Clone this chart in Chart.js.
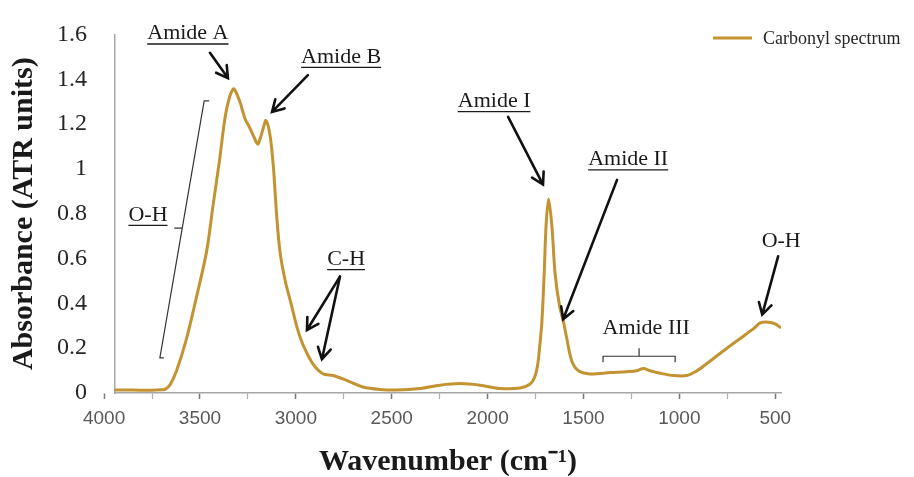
<!DOCTYPE html>
<html>
<head>
<meta charset="utf-8">
<script src="https://cdn.jsdelivr.net/npm/chart.js@4.4.1/dist/chart.umd.min.js"></script>
<style>
html,body{margin:0;padding:0;background:#fff;}
canvas{display:block;}
</style>
</head>
<body>
<canvas id="c" width="914" height="477"></canvas>
<script>
// ---- data ----
const seriesLabel = 'Carbonyl spectrum';
const wavenumbers = [3943,3850,3750,3700,3683,3657,3622,3570,3517,3465,3432,3396,3370,3344,3323,3291,3265,3239,3204,3196,3170,3156,3135,3117,3100,3083,3056,3022,2992,2963,2911,2859,2806,2735,2650,2561,2474,2352,2248,2144,2039,1935,1830,1778,1755,1740,1728,1717,1705,1695,1682,1665,1648,1625,1604,1587,1561,1526,1465,1361,1274,1222,1187,1152,1100,1030,961,908,839,752,683,613,578,535,500,470];
const absorbance  = [0.013,0.013,0.012,0.014,0.016,0.035,0.099,0.243,0.432,0.633,0.835,1.051,1.224,1.325,1.357,1.297,1.224,1.181,1.116,1.111,1.181,1.216,1.152,1.008,0.791,0.633,0.503,0.389,0.287,0.216,0.130,0.086,0.078,0.056,0.027,0.016,0.013,0.020,0.035,0.042,0.035,0.020,0.022,0.040,0.070,0.120,0.210,0.316,0.532,0.748,0.866,0.748,0.532,0.389,0.316,0.243,0.143,0.099,0.085,0.091,0.095,0.099,0.109,0.099,0.088,0.078,0.078,0.099,0.143,0.200,0.243,0.287,0.313,0.316,0.308,0.290];

const xTickValues = [4000,3750,3500,3250,3000,2750,2500,2250,2000,1750,1500,1250,1000,750,500];
const xLabelledTicks = [4000,3500,3000,2500,2000,1500,1000,500];
const yTickValues = [0,0.2,0.4,0.6,0.8,1.0,1.2,1.4,1.6];
const yTickLabels = ['0','0.2','0.4','0.6','0.8','1','1.2','1.4','1.6'];
const xAxisTitle = 'Wavenumber (cm\u207B\u00B9)';
const yAxisTitle = 'Absorbance (ATR units)';

// annotations (anchored in data coordinates)
const labelTexts = ['Amide A','Amide B','O-H','C-H','Amide I','Amide II','O-H','Amide III'];
const labelAnchors = [[3563,1.604],[2764,1.50],[3771,0.795],[2738,0.597],[1966,1.302],[1267,1.042],[469,0.679],[1173,0.290]];
const labelUnderlined = [true,true,true,true,true,true,false,false];
const arrowFrom = [[3448,1.518],[2937,1.418],[2770,0.519],[2770,0.519],[1893,1.232],[1325,0.951],[485,0.610]];
const arrowTo   = [[3354,1.405],[3124,1.254],[2942,0.281],[2864,0.151],[1711,0.930],[1606,0.329],[568,0.350]];
const ohBracket = [[3478,1.303],[3709,0.157]];
const amide3Bracket = [[1398,0.164],[1022,0.164]];

const lineColor = '#C39331';

const points = wavenumbers.map((w,i)=>({x:w,y:absorbance[i]}));

function drawArrow(ctx, x1,y1,x2,y2){
  const ang = Math.atan2(y2-y1,x2-x1);
  const L = 13, a = Math.PI/6;
  ctx.beginPath();
  ctx.moveTo(x1,y1); ctx.lineTo(x2,y2);
  ctx.moveTo(x2 - L*Math.cos(ang-a), y2 - L*Math.sin(ang-a));
  ctx.lineTo(x2,y2);
  ctx.lineTo(x2 - L*Math.cos(ang+a), y2 - L*Math.sin(ang+a));
  ctx.stroke();
}

const annotationPlugin = {
  id:'annot',
  afterDatasetsDraw(chart){
    const ctx = chart.ctx, xs = chart.scales.x, ys = chart.scales.y;
    const px = v=>xs.getPixelForValue(v), py = v=>ys.getPixelForValue(v);
    ctx.save();
    ctx.font = '22px "Liberation Serif"';
    ctx.fillStyle = '#1a1a1a';
    ctx.textAlign = 'center';
    ctx.textBaseline = 'middle';
    ctx.strokeStyle = '#1a1a1a';
    labelTexts.forEach((t,i)=>{
      const x = px(labelAnchors[i][0]), y = py(labelAnchors[i][1]);
      ctx.fillText(t,x,y);
      if(labelUnderlined[i]){
        const w = ctx.measureText(t).width;
        ctx.lineWidth = 1.3;
        ctx.beginPath(); ctx.moveTo(x-w/2,y+10.5); ctx.lineTo(x+w/2,y+10.5); ctx.stroke();
      }
    });
    ctx.strokeStyle = '#111';
    ctx.lineWidth = 2.6;
    ctx.lineCap = 'round';
    ctx.lineJoin = 'miter';
    arrowFrom.forEach((f,i)=>{
      drawArrow(ctx, px(f[0]),py(f[1]), px(arrowTo[i][0]),py(arrowTo[i][1]));
    });
    ctx.lineWidth = 1.2; ctx.strokeStyle = '#333'; ctx.lineCap='butt';
    const bx1 = px(ohBracket[0][0]), by1 = py(ohBracket[0][1]);
    const bx2 = px(ohBracket[1][0]), by2 = py(ohBracket[1][1]);
    const mx = bx1 + (bx2-bx1)*0.495, my = by1 + (by2-by1)*0.495;
    ctx.beginPath();
    ctx.moveTo(bx1+5,by1); ctx.lineTo(bx1,by1); ctx.lineTo(bx2,by2); ctx.lineTo(bx2+4,by2);
    ctx.moveTo(mx,my); ctx.lineTo(mx-8,my);
    ctx.stroke();
    const ax1 = px(amide3Bracket[0][0]), ay = py(amide3Bracket[0][1]);
    const ax2 = px(amide3Bracket[1][0]);
    ctx.beginPath();
    ctx.moveTo(ax1,ay+6); ctx.lineTo(ax1,ay); ctx.lineTo(ax2,ay); ctx.lineTo(ax2,ay+6);
    ctx.moveTo((ax1+ax2)/2,ay); ctx.lineTo((ax1+ax2)/2,ay-8);
    ctx.stroke();
    ctx.restore();
  },
  afterDraw(chart){
    const ctx = chart.ctx;
    const ds = chart.data.datasets[0];
    ctx.save();
    const lx = chart.width - 201, ly = 38;
    ctx.strokeStyle = ds.borderColor; ctx.lineWidth = 3;
    ctx.beginPath(); ctx.moveTo(lx,ly); ctx.lineTo(lx+39,ly); ctx.stroke();
    ctx.font = '18px "Liberation Serif"';
    ctx.fillStyle = '#262626';
    ctx.textAlign = 'left'; ctx.textBaseline = 'middle';
    ctx.fillText(ds.label, lx+50, ly+1);
    ctx.restore();
  }
};

new Chart(document.getElementById('c'), {
  type:'line',
  data:{ datasets:[{
    label: seriesLabel,
    data: points,
    borderColor: lineColor,
    borderWidth: 3,
    pointRadius: 0,
    fill: false,
    tension: 0.3
  }]},
  options:{
    responsive:false,
    animation:false,
    devicePixelRatio:1,
    layout:{padding:{left:0,right:133,top:23,bottom:0}},
    plugins:{legend:{display:false}, tooltip:{enabled:false}},
    scales:{
      x:{
        type:'linear', reverse:true, min:470, max:3943,
        afterBuildTicks: s=>{ s.ticks = xTickValues.map(v=>({value:v})); },
        afterFit: s=>{ s.height = 84; },
        grid:{display:true, drawOnChartArea:false, drawTicks:true, tickLength:6,
          tickColor: c => (c.tick && xLabelledTicks.includes(c.tick.value)) ? '#7f7f7f' : '#b0b0b0',
          tickWidth: c => (c.tick && xLabelledTicks.includes(c.tick.value)) ? 1.6 : 1.2},
        border:{display:true, color:'#a6a6a6', width:1.5},
        ticks:{autoSkip:false, maxRotation:0, padding:8, color:'#595959',
          font:{family:'"Liberation Sans"', size:19},
          callback: v => xLabelledTicks.includes(v) ? String(v) : ''},
        title:{display:true, text:xAxisTitle, color:'#1a1a1a', padding:{top:0,bottom:0},
          font:{family:'"Liberation Serif"', size:30, weight:'bold', lineHeight:1}}
      },
      y:{
        min:0, max:1.6,
        afterBuildTicks: s=>{ s.ticks = yTickValues.map(v=>({value:v})); },
        afterFit: s=>{ s.width = 115; },
        grid:{display:false},
        border:{display:true, color:'#a6a6a6', width:1.5},
        ticks:{padding:20, color:'#262626', font:{family:'"Liberation Serif"', size:24},
          callback: (v,i) => yTickLabels[i]},
        title:{display:true, text:yAxisTitle, color:'#1a1a1a', padding:{top:9,bottom:0},
          font:{family:'"Liberation Serif"', size:30, weight:'bold', lineHeight:1}}
      }
    }
  },
  plugins:[annotationPlugin]
});
</script>
</body>
</html>
